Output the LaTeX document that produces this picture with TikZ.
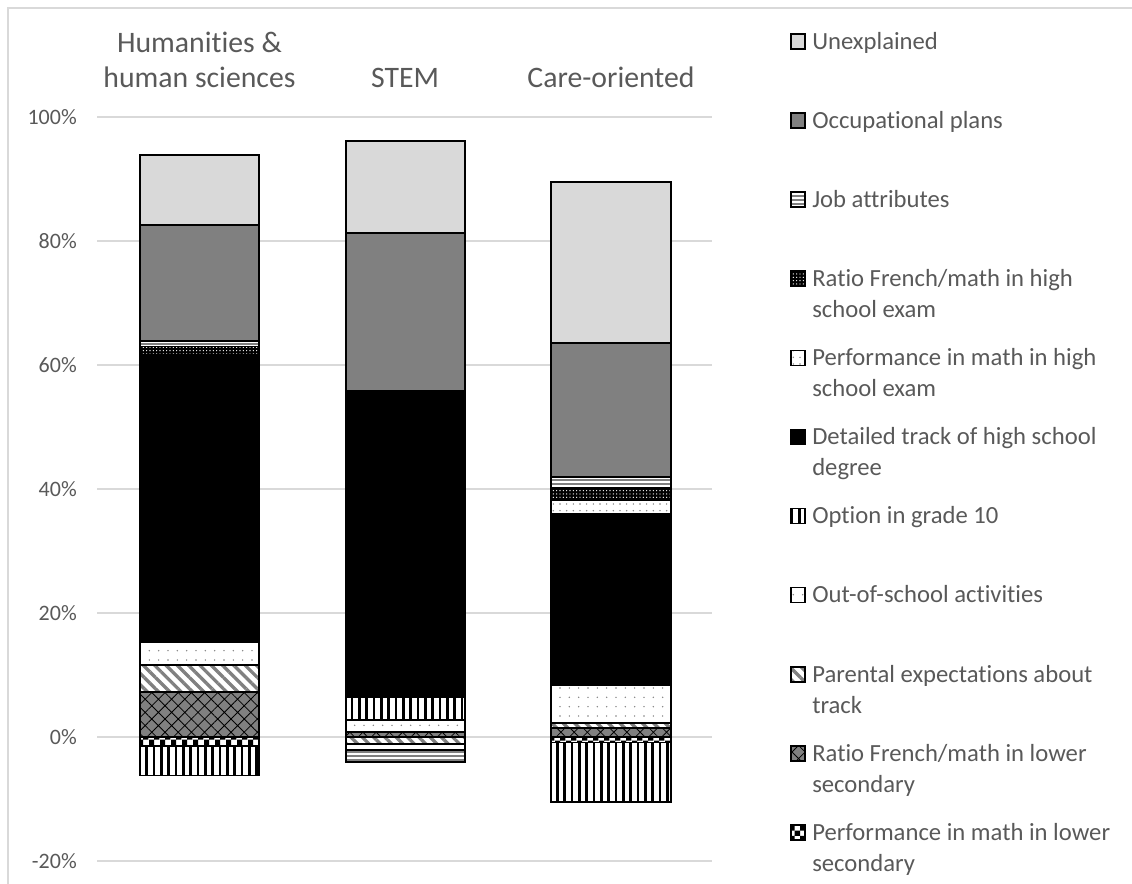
\documentclass[tikz,border=0pt]{standalone}
\usepackage{fontspec}
\setmainfont{Carlito}[RawFeature={-liga;-clig}]
\usetikzlibrary{patterns,patterns.meta}

\definecolor{txtgray}{HTML}{595959}
\definecolor{gridgray}{HTML}{D9D9D9}
\definecolor{midgray}{HTML}{808080}

\pgfdeclarepatternformonly{bigchecker}{\pgfqpoint{0pt}{0pt}}{\pgfqpoint{8pt}{8pt}}{\pgfqpoint{8pt}{8pt}}{%
  \pgfpathrectangle{\pgfqpoint{0pt}{0pt}}{\pgfqpoint{4pt}{4pt}}%
  \pgfpathrectangle{\pgfqpoint{4pt}{4pt}}{\pgfqpoint{4pt}{4pt}}%
  \pgfusepath{fill}}

\tikzset{
  seg/.style={draw=black, line width=1.3pt},
  unexpl/.style={fill=gridgray},
  occup/.style={fill=midgray},
  jobattr/.style={pattern={Lines[angle=0,distance=3pt,line width=0.8pt]}, pattern color=midgray},
  ratiohs/.style={preaction={fill=black}, pattern={Dots[radius=0.5pt,distance=2.5pt]}, pattern color=white},
  perfhs/.style={pattern={Dots[radius=0.6pt,distance=5pt]}, pattern color=midgray},
  track/.style={fill=black},
  optten/.style={pattern={Lines[angle=90,distance=5.5pt,line width=2.2pt]}, pattern color=black},
  outschool/.style={pattern={Dots[radius=0.6pt,distance=7pt]}, pattern color=midgray},
  parental/.style={pattern={Lines[angle=-45,distance=6pt,line width=2.5pt]}, pattern color=midgray},
  ratiols/.style={preaction={fill=midgray}, pattern={Hatch[angle=45,distance=7pt,line width=0.6pt]}, pattern color=black},
  perfls/.style={pattern=bigchecker, pattern color=black},
  axislbl/.style={text=txtgray, font=\fontsize{16.5}{20}\selectfont, anchor=east, inner sep=0pt},
  catlbl/.style={text=txtgray, font=\fontsize{22.3}{26.25}\selectfont, align=center, anchor=north, inner sep=0pt},
  leglbl/.style={text=txtgray, font=\fontsize{18.5}{23.25}\selectfont, align=left, anchor=north west, inner sep=0pt},
  legbox/.style={draw=black, line width=1.2pt},
}

\begin{document}
\begin{tikzpicture}[x=0.75pt, y=0.75pt]
  \useasboundingbox (0,0) rectangle (1132,884);
  \draw[gridgray, line width=1.5pt] (8,0) -- (8,876) -- (1132,876);

  % category labels
  \node[catlbl] (hum) at (199.5,856) {\strut Humanities \&\\human sciences};
  \node[catlbl] (stem) at (405,821) {\strut STEM};
  \node[catlbl] (care) at (611,821) {\strut Care-oriented};

  \begin{scope}[yshift=110.25pt, y=4.65pt]
    \foreach \p in {-20,0,...,100} {
      \draw[gridgray, line width=1.5pt] (97,\p) -- (712,\p);
      \node[axislbl] (ax\p) at (77,\p) {\p\%};
    }
    % humanities
    \foreach \a/\b/\s in {0/-1.5/perfls, -1.5/-6.2/optten, 0/7.3/ratiols, 7.3/11.6/parental,
        11.6/15.3/outschool, 15.3/61.6/track, 61.6/63.0/ratiohs, 63.0/63.9/jobattr,
        63.9/82.6/occup, 82.6/93.9/unexpl}
      \draw[seg,\s] (140,\a) rectangle (259,\b);
    % stem
    \foreach \a/\b/\s in {0/-1.1/parental, -1.1/-2.1/perfhs, -2.1/-4.0/jobattr, 0/0.8/ratiols,
        0.8/2.7/outschool, 2.7/6.5/optten, 6.5/55.8/track, 55.8/81.3/occup, 81.3/96.1/unexpl}
      \draw[seg,\s] (346,\a) rectangle (465,\b);
    % care
    \foreach \a/\b/\s in {0/-0.9/perfls, -0.9/-10.5/optten, 0/1.4/ratiols, 1.4/2.3/parental,
        2.3/8.3/outschool, 8.3/36.0/track, 36.0/38.2/perfhs, 38.2/40.2/ratiohs,
        40.2/41.9/jobattr, 41.9/63.5/occup, 63.5/89.5/unexpl}
      \draw[seg,\s] (551,\a) rectangle (671,\b);
  \end{scope}

  % legend
  \foreach \i/\s/\t in {0/unexpl/{Unexplained}, 1/occup/{Occupational plans}, 2/jobattr/{Job attributes},
      3/ratiohs/{Ratio French/math in high\\school exam}, 4/perfhs/{Performance in math in high\\school exam},
      5/track/{Detailed track of high school\\degree}, 6/optten/{Option in grade 10},
      7/outschool/{Out-of-school activities}, 8/parental/{Parental expectations about\\track},
      9/ratiols/{Ratio French/math in lower\\secondary}, 10/perfls/{Performance in math in lower\\secondary}} {
    \pgfmathsetmacro\yb{835-79.1*\i}
    \draw[legbox,\s] (791,\yb) rectangle (805,\yb+15);
    \node[leglbl] (leg\i) at (812,\yb+21.7) {\strut\t};
  }
\end{tikzpicture}
\end{document}
